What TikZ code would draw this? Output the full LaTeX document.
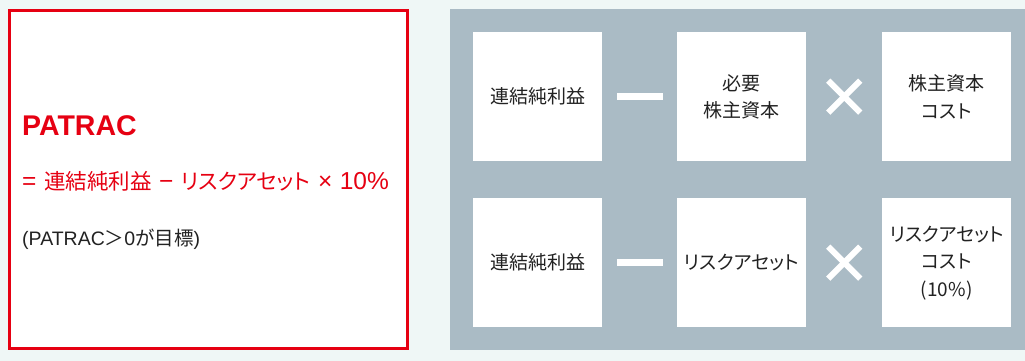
\documentclass[tikz,border=0pt]{standalone}
\usepackage{fontspec}
\usetikzlibrary{calc}
\newfontfamily\jp{Noto Sans CJK JP}
\newfontfamily\jpk{Noto Sans CJK JP}[RawFeature=+palt]
\newfontfamily\lat{Liberation Sans}
\definecolor{bgmint}{HTML}{EFF7F6}
\definecolor{panelgray}{HTML}{AABBC5}
\definecolor{patred}{HTML}{E60012}
\definecolor{txtdark}{HTML}{222222}
\newcommand{\latbig}{\lat\fontsize{24.5}{26}\selectfont}
\begin{document}
\begin{tikzpicture}[x=1pt,y=-1pt,
  valbox/.style={fill=white, minimum width=129pt, minimum height=129pt, inner sep=0pt,
    align=center, text=txtdark, anchor=north west, font=\jp\fontsize{19}{27.5}\selectfont},
  opsign/.style={white, line width=6pt},
  lefttext/.style={anchor=base west, inner sep=0pt}]
\useasboundingbox (0,0) rectangle (1025,361);
\fill[bgmint] (0,0) rectangle (1025,361);
\fill[panelgray] (450,9) rectangle (1025,350);
\draw[patred, fill=white, line width=3pt] (9.5,10.5) rectangle (407.5,348.5);

% left panel texts
\node[lefttext, text=patred, font=\lat\bfseries\fontsize{28.5}{30}\selectfont] (title) at (22,135) {PATRAC};
\node[lefttext, text=patred, font=\fontsize{21.5}{24}\selectfont] (formula) at (22,189)
  {{\latbig =}\hspace{0.35em}\jp 連結純利益\hspace{0.35em}{\latbig −}\hspace{0.35em}\jpk リスクアセット\hspace{0.35em}{\latbig ×\hspace{0.3em}10\%}};
\node[lefttext, text=txtdark, font=\fontsize{19.5}{22}\selectfont] (goal) at (22,245.5)
  {\lat(PATRAC\jp ＞\lat 0\jp が目標\lat)};

% right panel boxes
\node[valbox] (a1) at (473,32) {連結純利益};
\node[valbox] (b1) at (677,32) {必要\\株主資本};
\node[valbox] (c1) at (882,32) {株主資本\\{\jpk コスト}};
\node[valbox] (a2) at (473,198) {連結純利益};
\node[valbox] (b2) at (677,198) {{\jpk リスクアセット}};
\node[valbox] (c2) at (882,198) {{\jpk リスクアセット}\\{\jpk コスト}\\(10\%)};

% operators
\coordinate (m1) at ($(a1.east)!0.5!(b1.west)$);
\coordinate (x1) at ($(b1.east)!0.5!(c1.west)$);
\coordinate (m2) at ($(a2.east)!0.5!(b2.west)$);
\coordinate (x2) at ($(b2.east)!0.5!(c2.west)$);
\foreach \m in {m1,m2} {
  \fill[white] (\m) +(-23,-3.5) rectangle +(23,3.5);
}
\foreach \x in {x1,x2} {
  \draw[opsign] (\x) +(-16,-16) -- +(16,16);
  \draw[opsign] (\x) +(-16,16) -- +(16,-16);
}
\end{tikzpicture}
\end{document}
